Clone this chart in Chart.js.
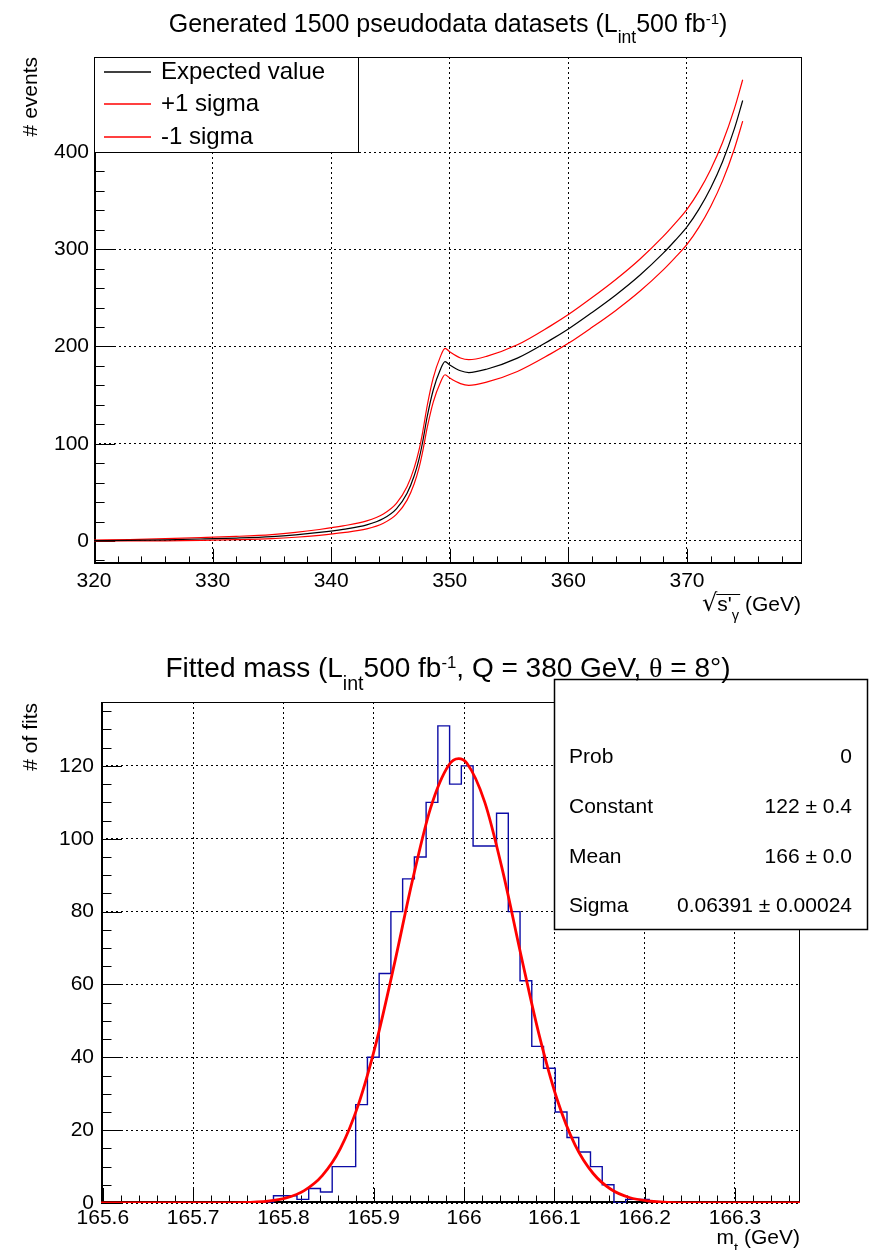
<!DOCTYPE html>
<html>
<head>
<meta charset="utf-8">
<script src="https://cdn.jsdelivr.net/npm/chart.js@4.4.0/dist/chart.umd.min.js"></script>
<style>
  html, body { margin: 0; padding: 0; background: #fff; }
  canvas { display: block; }
</style>
</head>
<body>
<canvas id="scan" width="870" height="625"></canvas>
<canvas id="fits" width="870" height="625"></canvas>
<script>
const FONT = "'Liberation Sans', Arial, Helvetica, sans-serif";
const SERIF = "'Liberation Serif', 'DejaVu Serif', serif";

// --- top pad: expected event counts vs sqrt(s') ---
const sqrtS = [320, 323, 326, 329, 332, 335, 337, 339, 341, 343, 344.4, 345.5, 346.4, 347, 347.4, 347.7, 348.1, 348.6, 349.2, 349.6, 350, 350.9, 351.6, 353.1, 355.7, 358.5, 360, 362, 364, 366, 368, 369, 370, 371, 372, 373, 374, 374.7];
const expected = [0.3, 0.6, 1.2, 2.0, 3.0, 4.5, 6.3, 8.8, 12, 16.5, 23, 33, 49, 67, 84, 101, 128, 155, 176, 184.5, 181, 175, 173.2, 176.6, 188, 206.8, 218, 235, 253, 273, 296, 309, 323, 341, 363, 390, 424, 453];
const plusSigma = [0.9, 1.4, 2.3, 3.4, 4.7, 6.6, 8.8, 11.8, 15.5, 20.6, 27.8, 38.7, 56, 75.2, 93.2, 111, 139.3, 167.4, 189.3, 198.1, 194.5, 188.2, 186.4, 189.9, 201.7, 221.2, 232.8, 250.3, 268.9, 289.5, 313.2, 326.6, 341, 359.5, 382.1, 409.7, 444.6, 474.3];
const minusSigma = [0, 0, 0.1, 0.6, 1.3, 2.4, 3.8, 5.8, 8.5, 12.4, 18.2, 27.3, 42, 58.8, 74.8, 91, 116.7, 142.6, 162.7, 170.9, 167.5, 161.8, 160, 163.3, 174.3, 192.4, 203.2, 219.7, 237.1, 256.5, 278.8, 291.4, 305, 322.5, 344, 370.3, 403.4, 431.7];
const scanXTicks = [320, 330, 340, 350, 360, 370];
const scanYTicks = [0, 100, 200, 300, 400];

// --- bottom pad: fitted top mass histogram ---
const binEdges = [165.776, 165.789, 165.802, 165.815, 165.828, 165.841, 165.854, 165.867, 165.880, 165.893, 165.906, 165.919, 165.932, 165.945, 165.958, 165.971, 165.984, 165.997, 166.010, 166.023, 166.036, 166.049, 166.062, 166.075, 166.088, 166.101, 166.114, 166.127, 166.140, 166.153, 166.166, 166.179, 166.192, 166.205];
const fitsPerBin = [0, 2, 2, 1, 4, 3, 10, 10, 27, 40, 63, 80, 89, 95, 110, 131, 115, 120, 98, 98, 107, 80, 61, 43, 37, 25, 18, 14, 10, 5, 0, 1, 1];
const gausX = [165.598, 165.703, 165.753, 165.783, 165.803, 165.823, 165.843, 165.863, 165.883, 165.903, 165.923, 165.943, 165.963, 165.983, 165.994, 166.003, 166.023, 166.043, 166.063, 166.083, 166.103, 166.123, 166.143, 166.163, 166.183, 166.203, 166.253, 166.372];
const gausY = [0, 0, 0.1, 0.5, 1.4, 3.4, 7.5, 14.9, 27.0, 44.3, 65.8, 88.7, 108.5, 120.2, 122, 120.8, 110.0, 90.9, 68.1, 46.3, 28.5, 15.9, 8.1, 3.7, 1.5, 0.6, 0.03, 0];
const massXTicks = [165.6, 165.7, 165.8, 165.9, 166, 166.1, 166.2, 166.3];
const massYTicks = [0, 20, 40, 60, 80, 100, 120];
const statNames = ['Prob', 'Constant', 'Mean', 'Sigma'];
const statValues = ['0', '122 \u00b1 0.4', '166 \u00b1 0.0', '0.06391 \u00b1 0.00024'];

const scanTitle = [['Generated 1500 pseudodata datasets (L'], ['int', 'sub'], ['500 fb'], ['-1', 'sup'], [')']];
const massTitle = [['Fitted mass (L'], ['int', 'sub'], ['500 fb'], ['-1', 'sup'], [', Q = 380 GeV, '], ['\u03b8', 'greek'], [' = 8\u00b0)']];

function partStyle(kind, size) {
  if (kind === 'sub') return { size: size * 0.7, dy: size * 0.45, fam: FONT };
  if (kind === 'sup') return { size: size * 0.6, dy: -size * 0.32, fam: FONT };
  if (kind === 'greek') return { size: size, dy: 0, fam: SERIF };
  if (kind === 'rad') return { size: size * 1.15, dy: 0, fam: "'DejaVu Sans', sans-serif" };
  return { size: size, dy: 0, fam: FONT };
}

function drawRich(ctx, parts, x, baseline, size, align) {
  ctx.save();
  ctx.fillStyle = '#000';
  ctx.textAlign = 'left';
  ctx.textBaseline = 'alphabetic';
  const items = parts.map(([t, k]) => {
    const st = partStyle(k, size);
    ctx.font = st.size + 'px ' + st.fam;
    return { t, st, w: ctx.measureText(t).width };
  });
  const total = items.reduce((s, it) => s + it.w, 0);
  let cx = align === 'center' ? x - total / 2 : align === 'right' ? x - total : x;
  items.forEach(it => {
    ctx.font = it.st.size + 'px ' + it.st.fam;
    ctx.fillText(it.t, cx, baseline + it.st.dy);
    it.x = cx;
    cx += it.w;
  });
  ctx.restore();
  return items;
}

function drawYTitle(ctx, text, x, top, size) {
  ctx.save();
  ctx.translate(x, top);
  ctx.rotate(-Math.PI / 2);
  ctx.font = size + 'px ' + FONT;
  ctx.fillStyle = '#000';
  ctx.textAlign = 'right';
  ctx.textBaseline = 'middle';
  ctx.fillText(text, 0, 0);
  ctx.restore();
}

// ROOT-like frame: ticks inside on the bottom and left axes
function drawFrame(chart, xMinor, yMinor) {
  const { ctx, chartArea: a, scales: { x, y } } = chart;
  const xLen = (a.bottom - a.top) * 0.03;
  const yLen = (a.right - a.left) * 0.03;
  ctx.save();
  ctx.strokeStyle = '#000';
  ctx.lineWidth = 1;
  ctx.beginPath();
  for (let k = Math.ceil(x.min / xMinor - 1e-6); k * xMinor <= x.max + 1e-9; k++) {
    const px = Math.round(x.getPixelForValue(k * xMinor)) + 0.5;
    ctx.moveTo(px, a.bottom); ctx.lineTo(px, a.bottom - xLen / 2);
  }
  x.ticks.forEach(t => {
    const px = Math.round(x.getPixelForValue(t.value)) + 0.5;
    ctx.moveTo(px, a.bottom); ctx.lineTo(px, a.bottom - xLen);
  });
  for (let k = Math.ceil(y.min / yMinor - 1e-6); k * yMinor <= y.max + 1e-9; k++) {
    const py = Math.round(y.getPixelForValue(k * yMinor)) + 0.5;
    ctx.moveTo(a.left, py); ctx.lineTo(a.left + yLen / 2, py);
  }
  y.ticks.forEach(t => {
    const py = Math.round(y.getPixelForValue(t.value)) + 0.5;
    ctx.moveTo(a.left, py); ctx.lineTo(a.left + yLen, py);
  });
  ctx.stroke();
  ctx.strokeRect(a.left + 0.5, a.top + 0.5, a.right - a.left - 1, a.bottom - a.top - 1);
  ctx.lineWidth = 2;
  ctx.beginPath();
  ctx.moveTo(a.left + 1, a.top);
  ctx.lineTo(a.left + 1, a.bottom - 1);
  ctx.lineTo(a.right, a.bottom - 1);
  ctx.stroke();
  ctx.restore();
}

function axisOpts(tickList, min, max, fmt, labelPad) {
  return {
    type: 'linear',
    min: min,
    max: max,
    afterBuildTicks: s => { s.ticks = tickList.map(v => ({ value: v })); },
    grid: { color: '#000', lineWidth: 1, drawTicks: false },
    border: { display: false, dash: [2, 3] },
    ticks: {
      autoSkip: false, maxRotation: 0, padding: labelPad, color: '#000',
      font: { family: FONT, size: 21 },
      callback: fmt
    }
  };
}

// ---------- top chart ----------
const scanPlugin = {
  id: 'scanDecor',
  beforeDatasetsDraw(chart) { drawFrame(chart, 2, 20); },
  afterDraw(chart) {
    const ctx = chart.ctx;
    // legend box
    ctx.save();
    ctx.fillStyle = '#fff';
    ctx.fillRect(94, 57, 264, 95);
    ctx.strokeStyle = '#000';
    ctx.lineWidth = 1;
    ctx.strokeRect(94.5, 57.5, 264, 95);
    const rows = [72, 104, 137];
    chart.data.datasets.forEach((ds, i) => {
      ctx.strokeStyle = ds.borderColor;
      ctx.lineWidth = 1.3;
      ctx.beginPath();
      ctx.moveTo(104, rows[i]); ctx.lineTo(151, rows[i]);
      ctx.stroke();
      ctx.fillStyle = '#000';
      ctx.font = '24px ' + FONT;
      ctx.textBaseline = 'middle';
      ctx.fillText(ds.label, 161, rows[i]);
    });
    ctx.restore();
    drawRich(ctx, scanTitle, 448, 32, 25, 'center');
    drawYTitle(ctx, '# events', 31, 57, 21);
    const it = drawRich(ctx, [['\u221a', 'rad'], ["s'"], ['\u03b3', 'sub'], [' (GeV)']], 801, 611, 21, 'right');
    ctx.save();
    ctx.strokeStyle = '#000';
    ctx.lineWidth = 1;
    ctx.beginPath();
    ctx.moveTo(it[1].x - 1, 594.5);
    ctx.lineTo(it[2].x + it[2].w + 1, 594.5);
    ctx.stroke();
    ctx.restore();
  }
};

new Chart(document.getElementById('scan'), {
  type: 'line',
  data: {
    datasets: [
      { label: 'Expected value', data: sqrtS.map((x, i) => ({ x, y: expected[i] })), borderColor: '#000000', borderWidth: 1.2, order: 0 },
      { label: '+1 sigma', data: sqrtS.map((x, i) => ({ x, y: plusSigma[i] })), borderColor: '#ff0000', borderWidth: 1.2, order: 1 },
      { label: '-1 sigma', data: sqrtS.map((x, i) => ({ x, y: minusSigma[i] })), borderColor: '#ff0000', borderWidth: 1.2, order: 2 }
    ]
  },
  options: {
    responsive: false,
    animation: false,
    elements: { point: { radius: 0 }, line: { cubicInterpolationMode: 'monotone', fill: false } },
    layout: { padding: { left: 0, top: 57, right: 68, bottom: 0 } },
    plugins: { legend: { display: false }, title: { display: false }, tooltip: { enabled: false } },
    scales: {
      x: Object.assign(axisOpts(scanXTicks, 320, 379.7, v => String(v), 5), { afterFit: s => { s.height = 61; } }),
      y: Object.assign(axisOpts(scanYTicks, -23.7, 497.7, v => String(v), 5), { afterFit: s => { s.width = 94; } })
    }
  },
  plugins: [scanPlugin]
});

// ---------- bottom chart ----------
const massPlugin = {
  id: 'massDecor',
  beforeDatasetsDraw(chart) { drawFrame(chart, 0.02, 5); },
  afterDraw(chart) {
    const ctx = chart.ctx;
    ctx.save();
    ctx.fillStyle = '#fff';
    ctx.fillRect(554, 54, 314, 250);
    ctx.strokeStyle = '#000';
    ctx.lineWidth = 1.5;
    ctx.strokeRect(554.5, 54.5, 313, 250);
    ctx.fillStyle = '#000';
    ctx.font = '21px ' + FONT;
    ctx.textBaseline = 'middle';
    const rows = [132, 182, 232, 281];
    statNames.forEach((n, i) => {
      ctx.textAlign = 'left';
      ctx.fillText(n, 569, rows[i]);
      ctx.textAlign = 'right';
      ctx.fillText(statValues[i], 852, rows[i]);
    });
    ctx.restore();
    drawRich(ctx, massTitle, 448, 52, 28, 'center');
    drawYTitle(ctx, '# of fits', 31, 78, 21);
    drawRich(ctx, [['m'], ['t', 'sub'], [' (GeV)']], 800, 619, 21, 'right');
  }
};

new Chart(document.getElementById('fits'), {
  type: 'line',
  data: {
    datasets: [
      { label: 'gaus', data: gausX.map((x, i) => ({ x, y: gausY[i] })), borderColor: '#ff0000', borderWidth: 2.8, cubicInterpolationMode: 'monotone', order: 0 },
      { label: 'fits', data: binEdges.map((x, i) => ({ x, y: i < fitsPerBin.length ? fitsPerBin[i] : 0 })), borderColor: '#0c0ca6', borderWidth: 1.4, stepped: 'before', order: 1 }
    ]
  },
  options: {
    responsive: false,
    animation: false,
    elements: { point: { radius: 0 }, line: { fill: false } },
    layout: { padding: { left: 0, top: 77, right: 70, bottom: 0 } },
    plugins: { legend: { display: false }, title: { display: false }, tooltip: { enabled: false } },
    scales: {
      x: Object.assign(axisOpts(massXTicks, 165.598, 166.372, v => String(+v.toFixed(2)), 3), { afterFit: s => { s.height = 47; } }),
      y: Object.assign(axisOpts(massYTicks, 0, 137.55, v => String(v), 7), { afterFit: s => { s.width = 101; } })
    }
  },
  plugins: [massPlugin]
});
</script>
</body>
</html>
